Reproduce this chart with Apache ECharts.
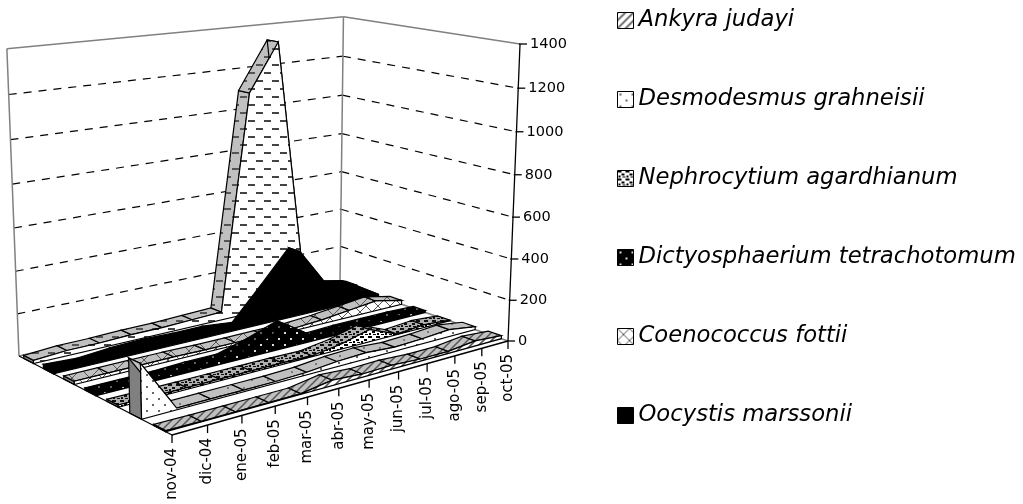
<!DOCTYPE html>
<html><head><meta charset="utf-8">
<style>html,body{margin:0;padding:0;background:#fff}#c{width:1023px;height:504px}</style>
<script src="https://cdn.jsdelivr.net/npm/echarts@6/dist/echarts.min.js"></script>
</head><body><div id="c"></div>
<script>
const categories = ['nov-04','dic-04','ene-05','feb-05','mar-05','abr-05','may-05','jun-05','jul-05','ago-05','sep-05','oct-05'];
const valueTicks = [0,200,400,600,800,1000,1200,1400];
const ankyra   = [5,3,3,3,3,25,15,18,10,10,25,15];
const desmo    = [240,8,8,8,8,12,25,30,20,25,35,15];
const nephro   = [10,8,8,8,8,8,5,25,60,3,14,4];
const dictyo   = [10,10,10,15,15,55,105,10,15,15,15,10];
const coeno    = [15,15,15,15,12,12,12,12,20,35,50,20];
const oocystis = [20,12,25,30,25,25,10,165,325,125,95,10];
const chlorella= [15,25,25,30,30,35,40,1100,1330,60,30,20];

const names = ['Ankyra judayi','Desmodesmus grahneisii','Nephrocytium agardhianum','Dictyosphaerium tetrachotomum','Coenococcus fottii','Oocystis marssonii','Chlorella sp'];
const seriesValues = [ankyra,desmo,nephro,dictyo,coeno,oocystis,chlorella];

// ---- perspective camera derived from the chart's floor corners and wall edges
const FL=[172,435], FR=[508,341], BR=[340,283], BL=[19,356], VP=[260,6468], TOP_FR_Y=44, MAXV=1400;
const dx1=FR[0]-BR[0],dx2=BL[0]-BR[0],sx=FL[0]-FR[0]+BR[0]-BL[0];
const dy1=FR[1]-BR[1],dy2=BL[1]-BR[1],sy=FL[1]-FR[1]+BR[1]-BL[1];
const den=dx1*dy2-dx2*dy1, g=(sx*dy2-dx2*sy)/den, h=(dx1*sy-sx*dy1)/den;
const a=FR[0]-FL[0]+g*FR[0], b=BL[0]-FL[0]+h*BL[0], c=FL[0];
const d=FR[1]-FL[1]+g*FR[1], e=BL[1]-FL[1]+h*BL[1], f=FL[1];
const W0=g+1, Y0=d+f, K=(Y0-TOP_FR_Y*W0)/(TOP_FR_Y-VP[1]);
function P(u,v,val){const w=val/MAXV*K, W=g*u+h*v+1+w;
  return [(a*u+b*v+c+w*VP[0])/W,(d*u+e*v+f+w*VP[1])/W];}
const U=i=>i/(categories.length-1);

// ---- fill patterns
function pat(sz,bg,draw){const cv=document.createElement('canvas');cv.width=cv.height=sz;const x=cv.getContext('2d');
  x.fillStyle=bg;x.fillRect(0,0,sz,sz);draw(x);return {image:cv,repeat:'repeat'};}
const dots=(ink,r,p)=>x=>{x.fillStyle=ink;x.fillRect(p/4-r/2,p/4-r/2,r,r);x.fillRect(3*p/4-r/2,3*p/4-r/2,r,r);};
const dash=ink=>x=>{x.fillStyle=ink;x.fillRect(0,0,7,2);x.fillRect(8,8,7,2);};
const diag=(ink,lw)=>x=>{x.strokeStyle=ink;x.lineWidth=lw;x.beginPath();x.moveTo(-2,10);x.lineTo(10,-2);x.moveTo(-2,2);x.lineTo(2,-2);x.moveTo(6,10);x.lineTo(10,6);x.stroke();};
const lattice=(ink,s)=>x=>{x.strokeStyle=ink;x.lineWidth=1;x.beginPath();x.moveTo(0,s);x.lineTo(s,0);x.moveTo(0,0);x.lineTo(s,s);x.stroke();};
const blobs=ink=>x=>{x.fillStyle=ink;x.fillRect(0,0,4,2);x.fillRect(4,3,3,2);x.fillRect(1,5,2,2);x.fillRect(5,6,3,1);};
const looks=[
 {front:pat(8,'#fff',diag('#555',1.6)), top:pat(8,'#c0c0c0',diag('#555',1.5)), side:'#808080'},
 {front:pat(12,'#fff',dots('#666',2,12)), top:pat(16,'#c0c0c0',dots('#444',1.5,16)), side:'#808080'},
 {front:pat(8,'#fff',blobs('#000')), top:pat(8,'#b0b0b0',blobs('#111')), side:'#808080'},
 {front:pat(12,'#000',dots('#ddd',2,12)), top:pat(12,'#000',dots('#aaa',1.5,12)), side:'#000'},
 {front:pat(12,'#fff',lattice('#555',12)), top:pat(18,'#c0c0c0',lattice('#555',18)), side:'#808080'},
 {front:'#000', top:'#000', side:'#000'},
 {front:pat(16,'#fff',dash('#444')), top:pat(16,'#c0c0c0',dash('#555')), side:'#808080'}
];
const ln=(p1,p2,s)=>({type:'line',shape:{x1:p1[0],y1:p1[1],x2:p2[0],y2:p2[1]},style:s});
const poly=(pts,fill,stroke,lw)=>({type:'polygon',shape:{points:pts},style:{fill:fill,stroke:stroke||null,lineWidth:lw||0}});

function ribbon(idx){
  const vals=seriesValues[idx], L=looks[idx], n=vals.length;
  const v0=(idx+0.25)/7, v1=(idx+0.75)/7, kids=[];
  kids.push(poly([P(0,v0,0),P(0,v1,0),P(0,v1,vals[0]),P(0,v0,vals[0])],L.side,'#000',1.2));
  for(let i=0;i<n-1;i++){
    kids.push(poly([P(U(i),v0,vals[i]),P(U(i+1),v0,vals[i+1]),P(U(i+1),v1,vals[i+1]),P(U(i),v1,vals[i])],L.top,'#000',1.2));
  }
  const pts=[P(0,v0,0)];
  for(let i=0;i<n;i++)pts.push(P(U(i),v0,vals[i]));
  pts.push(P(1,v0,0));
  kids.push(poly(pts,L.front,'#000',1.2));
  return {type:'group',children:kids};
}
function frame(){
  const kids=[], grey={stroke:'#808080',lineWidth:1.5};
  const dashS={stroke:'#000',lineWidth:1.2,lineDash:[8,7]};
  valueTicks.slice(1,-1).forEach(t=>{
    kids.push(ln(P(0,1,t),P(1,1,t),dashS)); kids.push(ln(P(1,1,t),P(1,0,t),dashS));
  });
  const top=MAXV;
  kids.push(ln(P(0,1,0),P(0,1,top),grey),ln(P(1,1,0),P(1,1,top),grey),ln(P(0,1,top),P(1,1,top),grey),ln(P(1,1,top),P(1,0,top),grey));
  kids.push(ln(P(0,1,0),P(1,1,0),grey),ln(P(1,1,0),P(1,0,0),grey));
  return {type:'group',children:kids};
}
function axes(){
  const kids=[], blk={stroke:'#000',lineWidth:1.3};
  kids.push(ln(P(0,0,0),P(1,0,0),blk),ln(P(0,0,0),P(0,1,0),blk),ln(P(1,0,0),P(1,0,MAXV),blk));
  valueTicks.forEach(t=>{const p=P(1,0,t);
    kids.push(ln([p[0]-1,p[1]],[p[0]+7,p[1]],blk));
    kids.push({type:'text',x:p[0]+10,y:p[1],style:{text:String(t),font:'14.5px "DejaVu Sans"',fill:'#000',align:'left',verticalAlign:'middle'}});
  });
  categories.forEach((cName,i)=>{const p=P(U(i),0,0);
    kids.push(ln(p,[p[0],p[1]+8],blk));
    kids.push({type:'text',x:p[0],y:p[1]+13,rotation:Math.PI/2,style:{text:cName,font:'15px "DejaVu Sans"',fill:'#000',align:'right',verticalAlign:'middle'}});
  });
  return {type:'group',children:kids};
}
const helper=(name,fn,z)=>({type:'custom',name:name,coordinateSystem:'none',silent:true,z:z,data:[0],renderItem:fn,animation:false});
const series=[helper('_frame',frame,1)];
for(let k=6;k>=0;k--){
  const idx=k;
  series.push({type:'custom',name:names[idx],coordinateSystem:'none',z:2,animation:false,
    itemStyle:{color:looks[idx].front,borderColor:'#000',borderWidth:1},
    data:seriesValues[idx].map((v,i)=>[i,v]),
    renderItem:(params)=>params.dataIndex===0?ribbon(idx):null});
}
series.push(helper('_axes',axes,3));
const chart=echarts.init(document.getElementById('c'),null,{renderer:'canvas'});
chart.setOption({
  animation:false,backgroundColor:'#fff',
  legend:{show:true,orient:'vertical',left:617,top:9,height:495,padding:0,itemWidth:16,itemHeight:16,itemGap:56,selectedMode:false,
    icon:'rect',
    textStyle:{fontFamily:'"DejaVu Sans"',fontStyle:'italic',fontSize:22.7,color:'#000',lineHeight:20},
    data:names.map((n,i)=>({name:n,itemStyle:{color:looks[i].front,borderColor:'#000',borderWidth:1}}))},
  series:series
});
</script></body></html>
